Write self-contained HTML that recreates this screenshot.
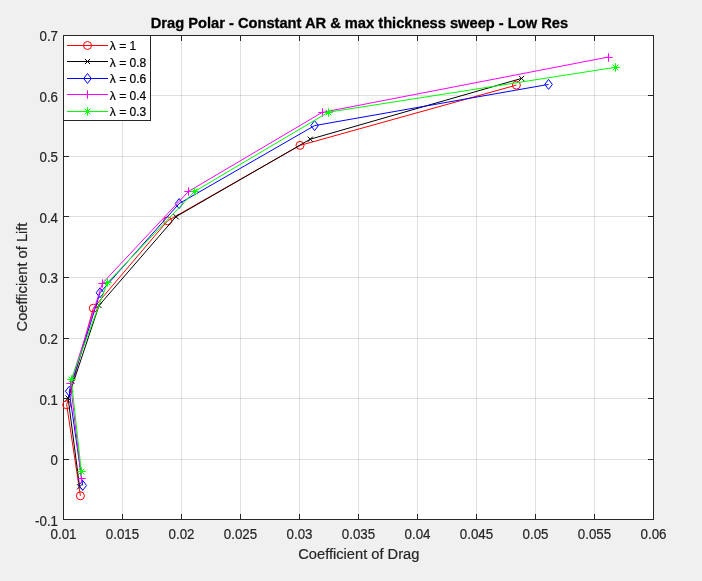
<!DOCTYPE html>
<html><head><meta charset="utf-8"><title>Drag Polar</title>
<style>
html,body{margin:0;padding:0;background:#f0f0f0;width:702px;height:581px;overflow:hidden}
svg{display:block;will-change:transform}
text{font-family:"Liberation Sans", Arial, Helvetica, sans-serif;}
.tk{font-size:13.33px;fill:#262626;stroke:#262626;stroke-width:0.2px}
.ti{font-size:14.67px;font-weight:bold;fill:#000;stroke:#000;stroke-width:0.3px}
.lb{font-size:14.67px;fill:#262626;stroke:#262626;stroke-width:0.2px}
.lg{font-size:12px;fill:#000;stroke:#000;stroke-width:0.2px}
</style></head>
<body>
<svg width="702" height="581" viewBox="0 0 702 581">
<rect x="63" y="35" width="590" height="484" fill="#fff"/>
<path d="M122.5 36V519M181.5 36V519M240.5 36V519M299.5 36V519M358.5 36V519M417.5 36V519M476.5 36V519M535.5 36V519M594.5 36V519M64 95.5H653M64 156.5H653M64 216.5H653M64 277.5H653M64 338.5H653M64 398.5H653M64 459.5H653" stroke="#262626" stroke-opacity="0.15" stroke-width="1" fill="none"/>
<path d="M63.5 519v-5M63.5 36v5M122.5 519v-5M122.5 36v5M181.5 519v-5M181.5 36v5M240.5 519v-5M240.5 36v5M299.5 519v-5M299.5 36v5M358.5 519v-5M358.5 36v5M417.5 519v-5M417.5 36v5M476.5 519v-5M476.5 36v5M535.5 519v-5M535.5 36v5M594.5 519v-5M594.5 36v5M653.5 519v-5M653.5 36v5M64 35.5h5M653 35.5h-5M64 95.5h5M653 95.5h-5M64 156.5h5M653 156.5h-5M64 216.5h5M653 216.5h-5M64 277.5h5M653 277.5h-5M64 338.5h5M653 338.5h-5M64 398.5h5M653 398.5h-5M64 459.5h5M653 459.5h-5M64 519.5h5M653 519.5h-5" stroke="#262626" stroke-width="1" fill="none"/>
<rect x="63.5" y="35.5" width="590" height="484" fill="none" stroke="#262626" stroke-width="1"/>
<path d="M80.40 495.80L66.70 404.80L93.30 308.20L167.60 220.80L300.00 145.40L516.40 85.10" stroke="#ff0000" stroke-width="1" fill="none" stroke-linejoin="round"/>
<circle cx="80.40" cy="495.80" r="4.0" fill="none" stroke="#ff0000"/>
<circle cx="66.70" cy="404.80" r="4.0" fill="none" stroke="#ff0000"/>
<circle cx="93.30" cy="308.20" r="4.0" fill="none" stroke="#ff0000"/>
<circle cx="167.60" cy="220.80" r="4.0" fill="none" stroke="#ff0000"/>
<circle cx="300.00" cy="145.40" r="4.0" fill="none" stroke="#ff0000"/>
<circle cx="516.40" cy="85.10" r="4.0" fill="none" stroke="#ff0000"/>
<path d="M79.60 486.80L68.10 398.20L99.00 305.50L176.00 216.70L310.30 139.20L521.60 78.40" stroke="#000000" stroke-width="1" fill="none" stroke-linejoin="round"/>
<path d="M77.00 484.20L82.20 489.40M77.00 489.40L82.20 484.20" stroke="#000000" fill="none"/>
<path d="M65.50 395.60L70.70 400.80M65.50 400.80L70.70 395.60" stroke="#000000" fill="none"/>
<path d="M96.40 302.90L101.60 308.10M96.40 308.10L101.60 302.90" stroke="#000000" fill="none"/>
<path d="M173.40 214.10L178.60 219.30M173.40 219.30L178.60 214.10" stroke="#000000" fill="none"/>
<path d="M307.70 136.60L312.90 141.80M307.70 141.80L312.90 136.60" stroke="#000000" fill="none"/>
<path d="M519.00 75.80L524.20 81.00M519.00 81.00L524.20 75.80" stroke="#000000" fill="none"/>
<path d="M82.70 485.40L69.20 391.20L100.00 292.80L179.10 203.60L314.60 125.60L548.55 84.40" stroke="#0000ff" stroke-width="1" fill="none" stroke-linejoin="round"/>
<path d="M82.70 480.40L86.50 485.40L82.70 490.40L78.90 485.40Z" stroke="#0000ff" fill="none"/>
<path d="M69.20 386.20L73.00 391.20L69.20 396.20L65.40 391.20Z" stroke="#0000ff" fill="none"/>
<path d="M100.00 287.80L103.80 292.80L100.00 297.80L96.20 292.80Z" stroke="#0000ff" fill="none"/>
<path d="M179.10 198.60L182.90 203.60L179.10 208.60L175.30 203.60Z" stroke="#0000ff" fill="none"/>
<path d="M314.60 120.60L318.40 125.60L314.60 130.60L310.80 125.60Z" stroke="#0000ff" fill="none"/>
<path d="M548.55 79.40L552.35 84.40L548.55 89.40L544.75 84.40Z" stroke="#0000ff" fill="none"/>
<path d="M81.30 478.20L70.50 383.20L102.40 283.30L188.40 191.50L322.20 112.40L608.50 57.00" stroke="#ff00ff" stroke-width="1" fill="none" stroke-linejoin="round"/>
<path d="M77.30 478.50H85.70M81.50 474.30V482.70" stroke="#ff00ff" fill="none"/>
<path d="M66.30 383.50H74.70M70.50 379.30V387.70" stroke="#ff00ff" fill="none"/>
<path d="M98.30 283.50H106.70M102.50 279.30V287.70" stroke="#ff00ff" fill="none"/>
<path d="M184.30 191.50H192.70M188.50 187.30V195.70" stroke="#ff00ff" fill="none"/>
<path d="M318.30 112.50H326.70M322.50 108.30V116.70" stroke="#ff00ff" fill="none"/>
<path d="M604.30 57.50H612.70M608.50 53.30V61.70" stroke="#ff00ff" fill="none"/>
<path d="M81.30 471.60L71.30 379.40L107.40 282.70L194.50 191.50L328.30 112.20L615.45 67.30" stroke="#00ff00" stroke-width="1" fill="none" stroke-linejoin="round"/>
<path d="M77.30 471.50H85.70M81.50 467.30V475.70M78.70 468.70L84.30 474.30M78.70 474.30L84.30 468.70" stroke="#00ff00" fill="none"/>
<path d="M67.30 379.50H75.70M71.50 375.30V383.70M68.70 376.70L74.30 382.30M68.70 382.30L74.30 376.70" stroke="#00ff00" fill="none"/>
<path d="M103.30 282.50H111.70M107.50 278.30V286.70M104.70 279.70L110.30 285.30M104.70 285.30L110.30 279.70" stroke="#00ff00" fill="none"/>
<path d="M190.30 191.50H198.70M194.50 187.30V195.70M191.70 188.70L197.30 194.30M191.70 194.30L197.30 188.70" stroke="#00ff00" fill="none"/>
<path d="M324.30 112.50H332.70M328.50 108.30V116.70M325.70 109.70L331.30 115.30M325.70 115.30L331.30 109.70" stroke="#00ff00" fill="none"/>
<path d="M611.30 67.50H619.70M615.50 63.30V71.70M612.70 64.70L618.30 70.30M612.70 70.30L618.30 64.70" stroke="#00ff00" fill="none"/>
<text transform="translate(63.5 539) scale(1 1.05)" text-anchor="middle" class="tk">0.01</text>
<text transform="translate(122.5 539) scale(1 1.05)" text-anchor="middle" class="tk">0.015</text>
<text transform="translate(181.5 539) scale(1 1.05)" text-anchor="middle" class="tk">0.02</text>
<text transform="translate(240.5 539) scale(1 1.05)" text-anchor="middle" class="tk">0.025</text>
<text transform="translate(299.5 539) scale(1 1.05)" text-anchor="middle" class="tk">0.03</text>
<text transform="translate(358.5 539) scale(1 1.05)" text-anchor="middle" class="tk">0.035</text>
<text transform="translate(417.5 539) scale(1 1.05)" text-anchor="middle" class="tk">0.04</text>
<text transform="translate(476.5 539) scale(1 1.05)" text-anchor="middle" class="tk">0.045</text>
<text transform="translate(535.5 539) scale(1 1.05)" text-anchor="middle" class="tk">0.05</text>
<text transform="translate(594.5 539) scale(1 1.05)" text-anchor="middle" class="tk">0.055</text>
<text transform="translate(653.5 539) scale(1 1.05)" text-anchor="middle" class="tk">0.06</text>
<text transform="translate(58 41) scale(1 1.05)" text-anchor="end" class="tk">0.7</text>
<text transform="translate(58 102) scale(1 1.05)" text-anchor="end" class="tk">0.6</text>
<text transform="translate(58 162) scale(1 1.05)" text-anchor="end" class="tk">0.5</text>
<text transform="translate(58 223) scale(1 1.05)" text-anchor="end" class="tk">0.4</text>
<text transform="translate(58 283) scale(1 1.05)" text-anchor="end" class="tk">0.3</text>
<text transform="translate(58 344) scale(1 1.05)" text-anchor="end" class="tk">0.2</text>
<text transform="translate(58 405) scale(1 1.05)" text-anchor="end" class="tk">0.1</text>
<text transform="translate(58 465) scale(1 1.05)" text-anchor="end" class="tk">0</text>
<text transform="translate(58 526) scale(1 1.05)" text-anchor="end" class="tk">-0.1</text>
<text transform="translate(359.4 28) scale(1 1.04)" text-anchor="middle" class="ti">Drag Polar - Constant AR &amp; max thickness sweep - Low Res</text>
<text transform="translate(358.8 559) scale(1 1.04)" text-anchor="middle" class="lb">Coefficient of Drag</text>
<text transform="translate(27.3 277) rotate(-90)" text-anchor="middle" class="lb">Coefficient of Lift</text>
<rect x="63.5" y="35.5" width="87" height="85" fill="#fff" stroke="#262626" stroke-width="1"/>
<path d="M67 45.5H108" stroke="#ff0000" stroke-width="1" fill="none"/>
<circle cx="87.50" cy="45.50" r="4.0" fill="none" stroke="#ff0000"/>
<text x="109.8" y="50" class="lg">λ = 1</text>
<path d="M67 61.5H108" stroke="#000000" stroke-width="1" fill="none"/>
<path d="M84.90 58.90L90.10 64.10M84.90 64.10L90.10 58.90" stroke="#000000" fill="none"/>
<text x="109.8" y="67" class="lg">λ = 0.8</text>
<path d="M67 78.5H108" stroke="#0000ff" stroke-width="1" fill="none"/>
<path d="M87.50 73.50L91.30 78.50L87.50 83.50L83.70 78.50Z" stroke="#0000ff" fill="none"/>
<text x="109.8" y="83" class="lg">λ = 0.6</text>
<path d="M67 94.5H108" stroke="#ff00ff" stroke-width="1" fill="none"/>
<path d="M83.30 94.50H91.70M87.50 90.30V98.70" stroke="#ff00ff" fill="none"/>
<text x="109.8" y="100" class="lg">λ = 0.4</text>
<path d="M67 111.5H108" stroke="#00ff00" stroke-width="1" fill="none"/>
<path d="M83.30 111.50H91.70M87.50 107.30V115.70M84.70 108.70L90.30 114.30M84.70 114.30L90.30 108.70" stroke="#00ff00" fill="none"/>
<text x="109.8" y="116" class="lg">λ = 0.3</text>
</svg>
</body></html>
